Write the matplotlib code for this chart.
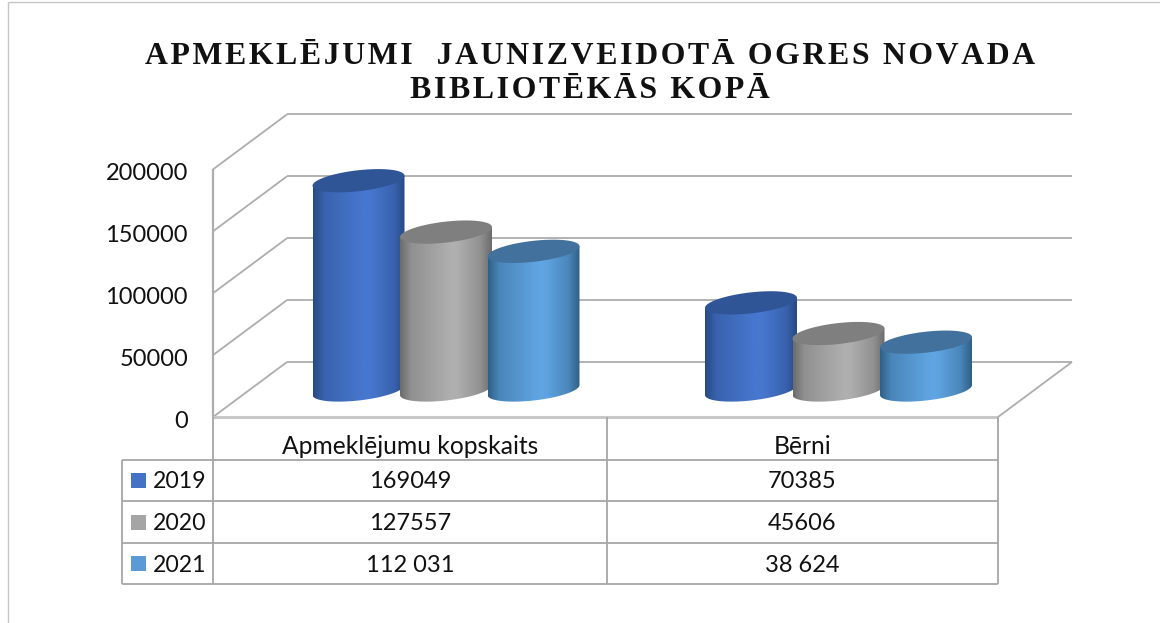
import numpy as np
import matplotlib
matplotlib.use("Agg")
import matplotlib.pyplot as plt
from matplotlib.patches import Polygon, Rectangle

TITLE_LINES = ["APMEKLĒJUMI  JAUNIZVEIDOTĀ OGRES NOVADA", "BIBLIOTĒKĀS KOPĀ"]
CATEGORIES = ["Apmeklējumu kopskaits", "Bērni"]
YEARS = ["2019", "2020", "2021"]
VALUES_2019 = [169049, 70385]
VALUES_2020 = [127557, 45606]
VALUES_2021 = [112031, 38624]
TABLE_2019 = ["169049", "70385"]
TABLE_2020 = ["127557", "45606"]
TABLE_2021 = ["112 031", "38 624"]
Y_TICKS = [0, 50000, 100000, 150000, 200000]

W, H = 1160, 623
FRONT_Y0 = 417
BACK_Y0 = 362
PX_PER_UNIT = 61.9 / 50000
X_FRONT, X_BACK = 213, 287
X_FRONT_R, X_BACK_R = 998, 1072
BAR_BASE = 390
BAR_A, BAR_TILT, BAR_B = 46, 5, 10.5
GROUP_X = [358.5, 751]
BAR_STEP = 87.5

WALL = "#adadad"
TABLE = "#a6a6a6"
SWATCH = ["#4472c4", "#a5a5a5", "#5b9bd5"]
CAP = ["#2f5597", "#7f7f7f", "#41719c"]
EDGE = ["#274a85", "#6b6b6b", "#2f5f85"]
MID = ["#4777cf", "#afafaf", "#60a5e3"]

plt.rcParams["font.family"] = ["Lato", "DejaVu Sans"]
fig = plt.figure(figsize=(W / 100, H / 100), dpi=100)
ax = fig.add_axes([0, 0, 1, 1])
ax.set_xlim(0, W)
ax.set_ylim(H, 0)
ax.axis("off")


def line(xs, ys, color=WALL, lw=1.3, z=1):
    ax.plot(xs, ys, color=color, lw=lw, solid_capstyle="butt", zorder=z)


def cylinder(cx, value, i, z):
    yb = BAR_BASE
    yt = BAR_BASE - value * PX_PER_UNIT
    t = np.linspace(0, np.pi, 60)
    # left edge sits lower than right edge because the ellipse is tilted
    body_x = np.r_[cx - BAR_A, cx - BAR_A * np.cos(t), cx + BAR_A]
    body_y = np.r_[yt + BAR_TILT, yb + BAR_TILT * np.cos(t) + BAR_B * np.sin(t), yt - BAR_TILT]

    shade = np.array([0, 0.12, 0.55, 0.62, 0.88, 1])
    level = np.array([0, 0.55, 1, 1, 0.55, 0])
    xs = np.linspace(0, 1, 200)
    mix = np.interp(xs, shade, level)
    c0 = np.array(matplotlib.colors.to_rgb(EDGE[i]))
    c1 = np.array(matplotlib.colors.to_rgb(MID[i]))
    img = c0 + mix[:, None] * (c1 - c0)
    im = ax.imshow(img[None, :, :], extent=[cx - BAR_A, cx + BAR_A, yb + 20, yt - 20],
                   aspect="auto", interpolation="bilinear", zorder=z)
    clip = Polygon(np.c_[body_x, body_y], closed=True, transform=ax.transData,
                   fc="none", ec="none")
    ax.add_patch(clip)
    im.set_clip_path(clip)

    a = np.linspace(0, 2 * np.pi, 120)
    cap_x = cx + BAR_A * np.cos(a)
    cap_y = yt - BAR_TILT * np.cos(a) + BAR_B * np.sin(a)
    ax.fill(cap_x, cap_y, color=CAP[i], lw=0, zorder=z + 0.1)


# outer frame
line([8, 8], [2, H], color="#c4c4c4", lw=1)
line([8, W], [2, 2], color="#c4c4c4", lw=1)

# walls and gridlines
for v in Y_TICKS:
    back = BACK_Y0 - v * PX_PER_UNIT
    front = FRONT_Y0 - v * PX_PER_UNIT
    line([X_BACK, X_BACK_R], [back, back])
    line([X_FRONT, X_BACK], [front, back])
    ax.text(188, front + 4.5, f"{v}", ha="right", va="center", fontsize=17, color="#111111")
line([X_FRONT, X_FRONT], [FRONT_Y0 - 200000 * PX_PER_UNIT, FRONT_Y0], lw=1.6)
line([X_FRONT, X_FRONT_R], [FRONT_Y0, FRONT_Y0], color="#c8c8c8", lw=2.2)
line([X_FRONT_R, X_BACK_R], [FRONT_Y0, BACK_Y0])

# cylinders
series = [VALUES_2019, VALUES_2020, VALUES_2021]
z = 3
for g, gx in enumerate(GROUP_X):
    for i, vals in enumerate(series):
        cylinder(gx + i * BAR_STEP, vals[g], i, z)
        z += 1

# data table
ROWS_Y = [460, 501, 543, 584]
COLS_X = [122, 213, 607, 998]
for y in ROWS_Y:
    line([COLS_X[0], COLS_X[-1]], [y, y], color=TABLE)
line([COLS_X[0], COLS_X[0]], [ROWS_Y[0], ROWS_Y[-1]], color=TABLE)
for x in COLS_X[1:]:
    line([x, x], [FRONT_Y0, ROWS_Y[-1]], color=TABLE)

for c, name in enumerate(CATEGORIES):
    ax.text((COLS_X[c + 1] + COLS_X[c + 2]) / 2, 447, name, ha="center", va="center",
            fontsize=17.7, color="#111111")
rows = [TABLE_2019, TABLE_2020, TABLE_2021]
for r, year in enumerate(YEARS):
    yc = (ROWS_Y[r] + ROWS_Y[r + 1]) / 2
    ax.add_patch(Rectangle((131, yc - 7.5), 15, 15, fc=SWATCH[r], ec="none"))
    ax.text(153, yc + 1.5, year, ha="left", va="center", fontsize=16.6, color="#111111")
    for c in range(2):
        ax.text((COLS_X[c + 1] + COLS_X[c + 2]) / 2, yc + 1.5, rows[r][c], ha="center", va="center",
                fontsize=17, color="#111111")

# title, letter spaced with hair spaces
for txt, y in zip(TITLE_LINES, [57, 90]):
    ax.text(590, y, "\u200a".join(txt), ha="center", va="center", family=["Liberation Serif", "DejaVu Sans"],
            fontweight="bold", fontsize=22.9, color="#111111")

fig.savefig("out.png", dpi=100)
